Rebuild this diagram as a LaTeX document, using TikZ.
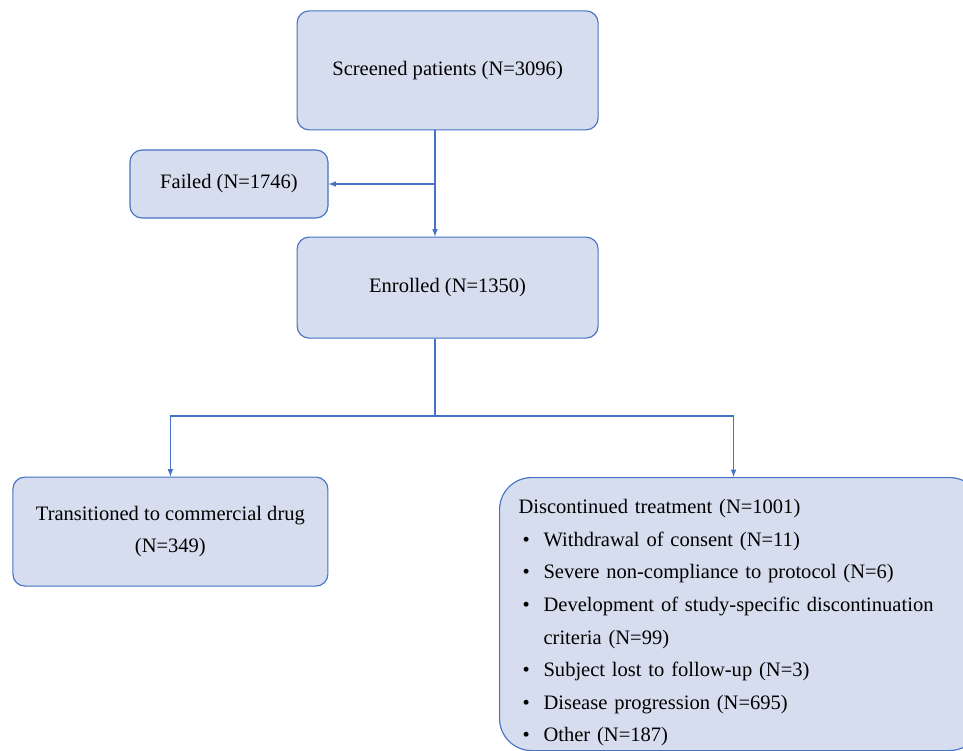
\documentclass[tikz,border=0pt]{standalone}
\usepackage{fontspec}
\setmainfont{Liberation Serif}
\usepackage{tikz}
\definecolor{boxfill}{RGB}{214,221,238}
\definecolor{boxline}{RGB}{68,114,196}
\newcommand{\bul}[1]{\hspace*{2.8pt}\makebox[15pt][l]{\textbullet}#1}
\newcommand{\cont}[1]{\hspace*{17.8pt}#1}

\begin{document}
\begin{tikzpicture}[
		flowbox/.style={draw=boxline, fill=boxfill, rounded corners=3mm, line width=0.8pt, font=\fontsize{14.6pt}{23.2pt}\selectfont, align=center, inner sep=0pt},
		link/.style={draw=boxline, line width=0.8pt}]
		\useasboundingbox (0,0) rectangle (24.075,-18.775);

		\node[flowbox, minimum width=7.525cm, minimum height=2.975cm] (screened) at (11.19,-1.76) {Screened patients (N=3096)};
		\node[flowbox, minimum width=4.95cm, minimum height=1.7cm] (failed) at (5.725,-4.6) {Failed (N=1746)};
		\node[flowbox, minimum width=7.525cm, minimum height=2.525cm] (enrolled) at (11.19,-7.19) {Enrolled (N=1350)};

		\node[flowbox, minimum width=7.875cm, minimum height=2.725cm] (trans) at (4.26,-13.29) {Transitioned to commercial drug\\(N=349)};
		\node[flowbox, rounded corners=8mm, anchor=north west, text width=11.1cm, align=left, inner xsep=0.475cm, inner ysep=0.075cm, minimum height=6.825cm] (disc) at (12.475,-11.925) {\rule{0pt}{22.7pt}Discontinued treatment (N=1001)\\
			\bul{Withdrawal of consent (N=11)}\\
			\bul{Severe non-compliance to protocol (N=6)}\\
			\bul{Development of study-specific discontinuation}\\
			\cont{criteria (N=99)}\\
			\bul{Subject lost to follow-up (N=3)}\\
			\bul{Disease progression (N=695)}\\
			\bul{Other (N=187)}};

		\coordinate (split) at (10.875,-4.6);
		\coordinate (fork) at (10.875,-10.4);

		\draw[link] (screened.south -| split) -- (split);
		\draw[link,-latex] (split) -- (failed.east);
		\draw[link,-latex] (split) -- (enrolled.north -| split);

		\draw[link] (enrolled.south -| fork) -- (fork);
		\draw[link,-latex] (fork) -| (trans.north);
		\draw[link,-latex] (fork) -| ([xshift=-0.175cm]disc.north);
	\end{tikzpicture}
\end{document}
